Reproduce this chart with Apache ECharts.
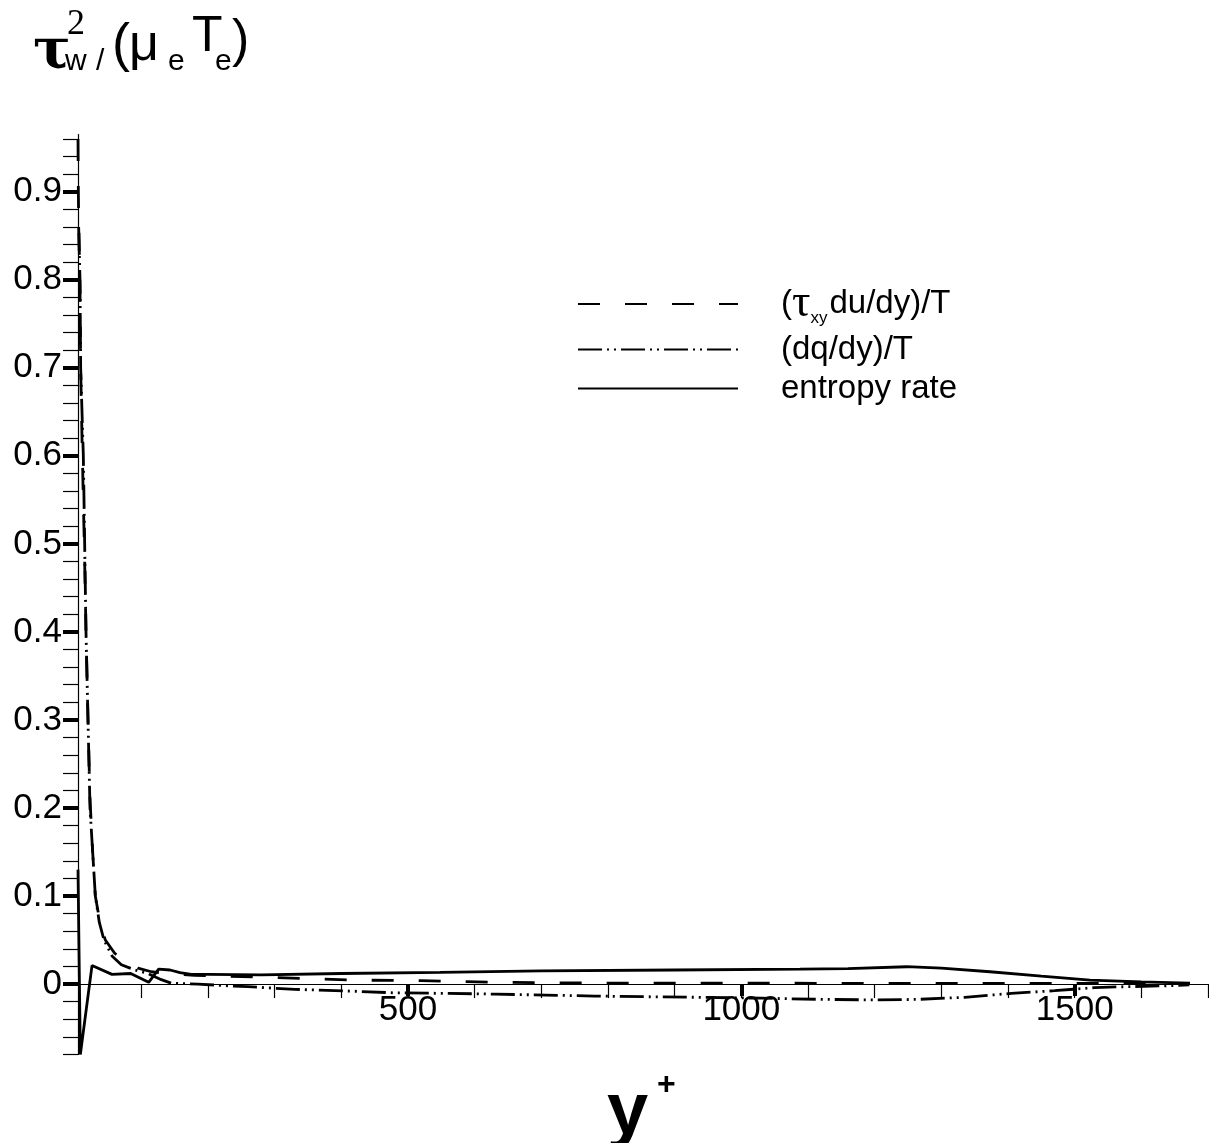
<!DOCTYPE html>
<html>
<head>
<meta charset="utf-8">
<script src="https://cdn.jsdelivr.net/npm/echarts@6/dist/echarts.min.js"></script>
<style>
  html, body { margin: 0; padding: 0; background: #fff; }
  #chart { width: 1209px; height: 1143px; }
</style>
</head>
<body>
<div id="chart"></div>
<script>
// (tau_xy du/dy)/T  -- dashed
const shearX = [5, 5.5, 6, 7, 8, 9, 11, 13, 15, 17, 20, 23, 27, 31, 38, 46, 60, 75, 95, 115, 140, 180, 270, 340, 420, 520, 640, 800, 1000, 1200, 1400, 1600, 1672];
const shearY = [0.96, 0.9, 0.87, 0.83, 0.79, 0.7, 0.62, 0.55, 0.48, 0.4, 0.3, 0.21, 0.15, 0.1, 0.07, 0.05, 0.035, 0.026, 0.018, 0.014, 0.012, 0.01, 0.008, 0.0065, 0.0045, 0.0038, 0.002, 0.001, 0.001, 0.0008, 0.0008, 0.0006, 0.0005];

// (dq/dy)/T  -- dash dot dot
const heatX = [6, 8, 9, 11, 13, 15, 17, 20, 23, 27, 31, 37, 44, 56, 70, 90, 110, 130, 145, 185, 230, 260, 330, 415, 480, 560, 630, 780, 860, 930, 1030, 1120, 1200, 1265, 1335, 1405, 1470, 1530, 1575, 1635, 1672];
const heatY = [0.86, 0.8, 0.7, 0.65, 0.6, 0.5, 0.4, 0.3, 0.2, 0.15, 0.1, 0.07, 0.05, 0.032, 0.022, 0.016, 0.012, 0.005, 0.001, 0, -0.002, -0.003, -0.006, -0.008, -0.01, -0.0106, -0.0114, -0.0136, -0.0144, -0.015, -0.016, -0.0174, -0.018, -0.0174, -0.015, -0.0106, -0.0075, -0.004, -0.003, -0.002, -0.001];

// entropy rate -- solid
const entX = [5, 8.5, 26, 56, 84, 111, 126, 143, 158, 175, 200, 280, 400, 548, 700, 900, 1088, 1160, 1248, 1300, 1373, 1450, 1523, 1600, 1673];
const entY = [0.13, -0.08, 0.021, 0.011, 0.012, 0.002, 0.017, 0.016, 0.013, 0.011, 0.011, 0.0105, 0.012, 0.0133, 0.015, 0.016, 0.017, 0.0175, 0.0197, 0.018, 0.014, 0.009, 0.0045, 0.0025, 0.001];

const seriesNames = ['(τxy du/dy)/T', '(dq/dy)/T', 'entropy rate'];

// axis ticks and labels
const xLabels = [500, 1000, 1500];
const xMinorTicks = [100, 200, 300, 400, 500, 600, 700, 800, 900, 1000, 1100, 1200, 1300, 1400, 1500, 1600, 1700];
const yLabels = [0, 0.1, 0.2, 0.3, 0.4, 0.5, 0.6, 0.7, 0.8, 0.9];
const yMinorTicks = [];
for (let i = -4; i <= 48; i++) yMinorTicks.push(+(i * 0.02).toFixed(2));

const pairs = (xs, ys) => xs.map((x, i) => [x, ys[i]]);

const SANS = 'Liberation Sans';
const SERIF = 'DejaVu Serif';

const chart = echarts.init(document.getElementById('chart'));

// small helper for pieces of the axis titles
const txt = (text, x, y, font, size, weight) => ({
  type: 'text',
  x: x,
  y: y,
  style: {
    text: text,
    fontFamily: font,
    fontSize: size,
    fontWeight: weight || 'normal',
    fill: '#000',
    align: 'left',
    verticalAlign: 'middle'
  }
});

const option = {
  animation: false,
  backgroundColor: '#fff',
  grid: { left: 78, top: 134.5, width: 1130, height: 920 },
  legend: {
    orient: 'vertical',
    left: 572,
    top: 276,
    itemWidth: 160,
    itemHeight: 20,
    itemGap: 6,
    data: seriesNames,
    itemStyle: { opacity: 0 },
    formatter: (name) => name === seriesNames[0] ? '({tau|τ}{sub|xy}du/dy)/T' : name,
    textStyle: {
      color: '#000',
      fontFamily: SANS,
      fontSize: 33,
      padding: [0, 0, 0, 38],
      rich: {
        tau: { fontFamily: 'Liberation Serif', fontSize: 46, color: '#000' },
        sub: { fontFamily: SANS, fontSize: 17, color: '#000', verticalAlign: 'bottom', padding: [0, 2, 0, 0] }
      }
    }
  },
  xAxis: [
    {
      type: 'value',
      min: 5,
      max: 1700,
      axisLine: { onZero: true, lineStyle: { color: '#000', width: 1.2 } },
      axisTick: { show: true, inside: false, length: 14, customValues: xMinorTicks, lineStyle: { color: '#000', width: 1.2 } },
      axisLabel: { customValues: xLabels, margin: -62, color: '#000', fontFamily: SANS, fontSize: 35, formatter: (v) => String(v) },
      splitLine: { show: false }
    },
    {
      type: 'value',
      position: 'bottom',
      min: 5,
      max: 1700,
      axisLine: { show: false, onZero: true },
      axisTick: { show: true, inside: false, length: 12, customValues: xLabels, lineStyle: { color: '#000', width: 4 } },
      axisLabel: { show: false },
      splitLine: { show: false }
    }
  ],
  yAxis: [
    {
      type: 'value',
      min: -0.08,
      max: 0.965,
      axisLine: { show: true, lineStyle: { color: '#000', width: 1.2 } },
      axisTick: { show: true, inside: false, length: 15, customValues: yMinorTicks, lineStyle: { color: '#000', width: 1.2 } },
      axisLabel: { customValues: yLabels, margin: 16, color: '#000', fontFamily: SANS, fontSize: 35, formatter: (v) => String(v) },
      splitLine: { show: false }
    },
    {
      type: 'value',
      position: 'left',
      min: -0.08,
      max: 0.965,
      axisLine: { show: false },
      axisTick: { show: true, inside: false, length: 15, customValues: yLabels, lineStyle: { color: '#000', width: 4 } },
      axisLabel: { show: false },
      splitLine: { show: false }
    }
  ],
  series: [
    {
      name: seriesNames[0],
      type: 'line',
      data: pairs(shearX, shearY),
      symbol: 'none',
      lineStyle: { color: '#000', width: 2.8, type: [22, 25], cap: 'butt' },
      itemStyle: { color: '#000' }
    },
    {
      name: seriesNames[1],
      type: 'line',
      data: pairs(heatX, heatY),
      symbol: 'none',
      lineStyle: { color: '#000', width: 2.8, type: [24, 5, 2, 5, 2, 5], cap: 'butt' },
      itemStyle: { color: '#000' }
    },
    {
      name: seriesNames[2],
      type: 'line',
      data: pairs(entX, entY),
      symbol: 'none',
      lineStyle: { color: '#000', width: 2.8, type: 'solid' },
      itemStyle: { color: '#000' }
    }
  ],
  graphic: [
    // y title: tau_w^2/(mu_e T_e)
    txt('τ', 33, 53, SERIF, 56, 'bold'),
    txt('2', 67, 25, 'Liberation Serif', 36),
    txt('w', 65, 62, SANS, 30),
    txt('/', 96, 62, SANS, 30),
    txt('(', 112, 46, SANS, 54),
    txt('μ', 129, 46, SANS, 52),
    txt('e', 168, 62, SANS, 30),
    txt('T', 192, 37, SANS, 50),
    txt('e', 215, 62, SANS, 30),
    txt(')', 232, 42, SANS, 52),
    // x title: y+
    txt('y', 607, 1114, SANS, 74, 'bold'),
    txt('+', 657, 1085, SANS, 32, 'bold')
  ]
};

chart.setOption(option);
</script>
</body>
</html>
